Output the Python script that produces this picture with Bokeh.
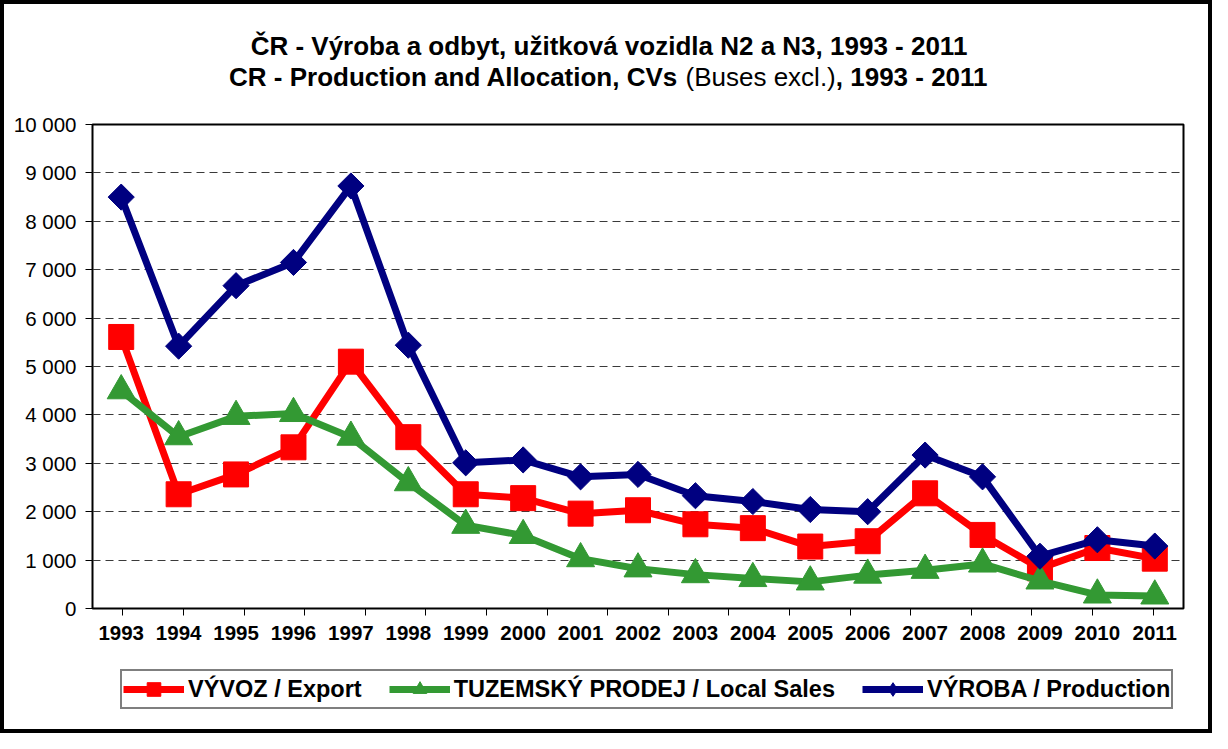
from bokeh.plotting import figure
from bokeh.layouts import column
from bokeh.models import (FactorRange, Range1d, LinearAxis, CategoricalAxis, FixedTicker,
                          Label, Legend, LegendItem, ColumnDataSource)
from bokeh.embed import file_html
from bokeh.resources import INLINE

# ---------------- data ----------------
years = ["1993", "1994", "1995", "1996", "1997", "1998", "1999", "2000", "2001", "2002",
         "2003", "2004", "2005", "2006", "2007", "2008", "2009", "2010", "2011"]
export = [5610, 2360, 2770, 3330, 5100, 3540, 2360, 2280, 1960, 2030,
          1740, 1660, 1280, 1390, 2380, 1520, 830, 1250, 1030]
local_sales = [4500, 3550, 3970, 4030, 3540, 2600, 1720, 1510, 1030, 820,
               700, 620, 550, 690, 790, 920, 570, 280, 260]
production = [8500, 5420, 6670, 7150, 8730, 5440, 3010, 3070, 2720, 2770,
              2330, 2210, 2045, 2000, 3170, 2720, 1080, 1420, 1290]
y_ticks = [0, 1000, 2000, 3000, 4000, 5000, 6000, 7000, 8000, 9000, 10000]
y_tick_labels = ["0", "1 000", "2 000", "3 000", "4 000", "5 000", "6 000",
                 "7 000", "8 000", "9 000", "10 000"]
series_names = ["VÝVOZ / Export", "TUZEMSKÝ PRODEJ / Local Sales", "VÝROBA / Production"]
title1 = "ČR - Výroba a odbyt, užitková vozidla N2 a N3, 1993 - 2011"
title2_parts = ["CR - Production and Allocation, CVs", "(Buses excl.)", ", 1993 - 2011"]

FONT = "Liberation Sans"
RED, GREEN, NAVY = "#FF0000", "#339933", "#000080"
W = 1204
FRAME_LEFT = 88          # frames of the stacked plots are aligned to this

src = ColumnDataSource(dict(year=years, export=export, local=local_sales, production=production))


def strip(height, x_range, y_range):
    f = figure(width=W, height=height, x_range=x_range, y_range=y_range,
               output_backend="svg", toolbar_location=None,
               x_axis_location=None, y_axis_location=None)
    f.min_border = 0
    f.outline_line_color = None
    f.xgrid.visible = False
    f.ygrid.visible = False
    f.background_fill_color = "white"
    f.border_fill_color = "white"
    return f


# ---------------- title strip ----------------
top = strip(100, Range1d(0, 1), Range1d(0, 1))
fs = 26
cx = 604.5 - FRAME_LEFT
top.add_layout(Label(x=cx, y=59, x_units="screen", y_units="screen", text=title1,
                     text_align="center", text_baseline="middle", text_font=FONT,
                     text_font_size=f"{fs}px", text_font_style="bold", text_color="black"))
# widths in em (Arial / Liberation Sans metrics): part A, space, part B, part C
em_a, em_sp, em_b, em_c = 17.28, 0.278, 5.779, 5.893
lefts = [cx - (em_a + em_sp + em_b + em_c) * fs / 2]
lefts.append(lefts[0] + (em_a + em_sp) * fs)
lefts.append(lefts[1] + em_b * fs)
for part, lx, st in zip(title2_parts, lefts, ["bold", "normal", "bold"]):
    top.add_layout(Label(x=lx, y=28, x_units="screen", y_units="screen", text=part,
                         text_align="left", text_baseline="middle", text_font=FONT,
                         text_font_size=f"{fs}px", text_font_style=st, text_color="black"))

# ---------------- main chart ----------------
p = figure(width=W, height=564, x_range=FactorRange(factors=years), y_range=Range1d(0, 10000),
           output_backend="svg", toolbar_location=None,
           x_axis_location=None, y_axis_location=None)
p.min_border_left = FRAME_LEFT
p.min_border_right = 25
p.min_border_top = 20
p.min_border_bottom = 60
p.background_fill_color = "white"
p.border_fill_color = "white"
p.outline_line_color = "black"
p.outline_line_width = 2

p.xgrid.visible = False
p.ygrid.ticker = FixedTicker(ticks=y_ticks)
p.ygrid.grid_line_color = "#3a3a3a"
p.ygrid.grid_line_dash = "8 5"
p.ygrid.grid_line_width = 1

# boundary ticks: a factor range of category edges, shifted half a category
edges = ["e%d" % i for i in range(len(years) + 1)]
p.extra_x_ranges = {"bnd": FactorRange(factors=edges, range_padding=-1,
                                       range_padding_units="absolute")}
bnd_axis = CategoricalAxis(x_range_name="bnd",
                           major_tick_out=7, major_tick_in=0, axis_line_color=None,
                           major_tick_line_color="black",
                           major_label_text_font_size="1px", major_label_text_alpha=0,
                           major_label_standoff=0)
p.add_layout(bnd_axis, "below")
cat_axis = CategoricalAxis(major_tick_out=0, major_tick_in=0, axis_line_color=None,
                           major_label_text_font=FONT, major_label_text_font_size="20.5px",
                           major_label_text_font_style="bold", major_label_text_color="black",
                           major_label_standoff=10)
p.add_layout(cat_axis, "below")

yaxis = LinearAxis(ticker=FixedTicker(ticks=y_ticks),
                   major_label_overrides={t: l for t, l in zip(y_ticks, y_tick_labels)},
                   major_tick_out=7, major_tick_in=0, minor_tick_out=0, minor_tick_in=0,
                   axis_line_color=None, major_tick_line_color="black",
                   major_label_text_font=FONT, major_label_text_font_size="20.5px",
                   major_label_text_color="black", major_label_standoff=9)
p.add_layout(yaxis, "left")

p.line("year", "export", source=src, line_color=RED, line_width=7)
p.scatter("year", "export", source=src, marker="square", size=25,
          fill_color=RED, line_color=RED)
p.line("year", "local", source=src, line_color=GREEN, line_width=7)
p.scatter("year", "local", source=src, marker="triangle", size=28,
          fill_color=GREEN, line_color=GREEN)
p.line("year", "production", source=src, line_color=NAVY, line_width=7)
p.scatter("year", "production", source=src, marker="square", size=18.5, angle=0.7853981634,
          fill_color=NAVY, line_color=NAVY)

# ---------------- legend strip ----------------
# same series drawn again, but the strip's y-range lies below all values, so only
# the legend swatches show
lg = strip(61, FactorRange(factors=years), Range1d(-3, -2))
items = []
for name, col, mk, fld in zip(series_names, [RED, GREEN, NAVY],
                              ["square", "triangle", "diamond"],
                              ["export", "local", "production"]):
    rl = lg.line("year", fld, source=src, line_color=col, line_width=7)
    rm = lg.scatter("year", fld, source=src, marker=mk, fill_color=col, line_color=col)
    items.append(LegendItem(label=name, renderers=[rl, rm]))
legend = Legend(items=items, orientation="horizontal", location=(116 - FRAME_LEFT, 20),
                label_text_font=FONT, label_text_font_size="23.5px", label_text_font_style="bold",
                label_text_color="black", glyph_width=61, glyph_height=34,
                label_standoff=4, spacing=27, padding=1, margin=0,
                border_line_color="black", border_line_width=2,
                background_fill_color="white", background_fill_alpha=1.0)
lg.add_layout(legend, "center")

layout = column(top, p, lg, spacing=0, styles={"border": "4px solid black"})
open("out.html", "w").write(file_html(layout, INLINE))
